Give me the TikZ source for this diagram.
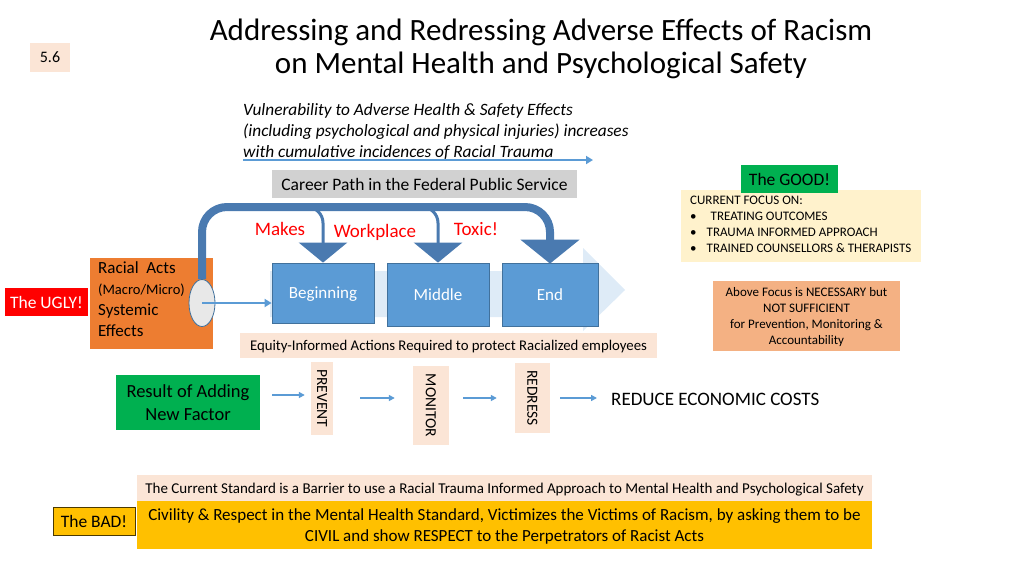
\documentclass[tikz,border=0pt]{standalone}
\usepackage{fontspec}
\setmainfont{Carlito}
\usetikzlibrary{arrows.meta,shapes.geometric}

\definecolor{peach}{HTML}{FBE5D6}
\definecolor{stageblue}{HTML}{5B9BD5}
\definecolor{stageedge}{HTML}{41719C}
\definecolor{darkpath}{HTML}{4A7AB0}
\definecolor{paleblue}{HTML}{DEEBF7}
\definecolor{goodgreen}{HTML}{00B050}
\definecolor{uglyorange}{HTML}{ED7D31}
\definecolor{focusyellow}{HTML}{FFF2CC}
\definecolor{needsalmon}{HTML}{F4B183}
\definecolor{badgold}{HTML}{FFC000}

\begin{document}
\begin{tikzpicture}[
            x = 1pt, y = -1pt,
            every node/.style={text depth=0pt, inner sep=0pt},
            stage/.style={rectangle, fill=stageblue, draw=stageedge, line width=.8pt,
                text=white, font=\fontsize{17}{19}\selectfont},
            tag/.style={rectangle, minimum height=28pt, font=\fontsize{17.5}{19}\selectfont},
            vbox/.style={rectangle, fill=peach},
            vlabel/.style={rotate=-90, font=\fontsize{15.5}{17}\selectfont},
            red word/.style={text=red, font=\fontsize{19}{21}\selectfont},
            path line/.style={draw=darkpath, line width=8pt,
                -{Triangle[width=58pt, length=24pt]}},
            branch/.style={draw=darkpath, line width=3pt,
                -{Triangle[width=48pt, length=20pt]}},
            flow/.style={draw=stageblue, line width=2pt, -{Triangle[width=8pt, length=7pt]}},
            small flow/.style={draw=stageblue, line width=1.6pt, -{Triangle[width=6pt, length=6pt]}},
            ]

        \useasboundingbox (0,0) rectangle (1024,576);

        % heading
        \node[fill=peach, minimum width=40pt, minimum height=29pt,
            font=\fontsize{16}{18}\selectfont] (num) at (50,57.5) {5.6};
        \node[align=center, font=\fontsize{31}{33}\selectfont] (title) at (541,46)
            {Addressing and Redressing Adverse Effects of Racism\\on Mental Health and Psychological Safety};

        % vulnerability note
        \node[anchor=north west, align=left, font=\fontsize{17.3}{21}\itshape] (vuln) at (243,103)
            {Vulnerability to Adverse Health \& Safety Effects\\
             (including psychological and physical injuries) increases\\
             with cumulative incidences of Racial Trauma};
        \coordinate (v1) at (243,160);
        \coordinate (v2) at (593,160);
        \draw[flow] (v1) -- (v2);

        \node[fill=black!18, minimum width=305pt, minimum height=28pt,
            font=\fontsize{17.5}{19}\selectfont] (career) at (424.5,184)
            {Career Path in the Federal Public Service};

        % career stages
        \fill[paleblue] (270,271) -- (583,271) -- (583,248) -- (625,290)
            -- (583,331) -- (583,317) -- (270,317) -- cycle;
        \node[stage, minimum width=102pt, minimum height=60pt] (beg) at (323,293) {Beginning};
        \node[stage, minimum width=102pt, minimum height=63pt] (mid) at (438,294.5) {Middle};
        \node[stage, minimum width=96pt, minimum height=63pt] (end) at (550,294.5) {End};

        % the ugly
        \node[fill=uglyorange, minimum width=123pt, minimum height=91pt] (acts) at (151.5,303.5) {};
        \node[anchor=north west, align=left, font=\fontsize{17}{21}\selectfont] (actstext) at (98,261)
            {Racial\ \ Acts\\{\fontsize{14.5}{15}\selectfont(Macro/Micro)}\\Systemic\\Effects};
        \node[ellipse, fill=black!9, draw=stageedge, line width=.8pt,
            minimum width=26pt, minimum height=47pt] (src) at (202,303) {};
        \node[tag, fill=red, text=white, minimum width=83pt] (ugly) at (46.5,302) {The UGLY!};

        \coordinate (top) at (0,207);
        \draw[path line, rounded corners=25pt] (src.north) -- (src.north |- top)
            -- (end.north |- top) -- ([yshift=-1pt]end.north);
        \draw[branch, rounded corners=16pt] ([xshift=-22pt]beg.north |- top) -| (beg.north);
        \draw[branch, rounded corners=16pt] ([xshift=-22pt]mid.north |- top) -| (mid.north);
        \draw[flow] (src.center) -- (src.center -| beg.west);

        \node[red word] (w1) at (280,229) {Makes};
        \node[red word] (w2) at (375,231) {Workplace};
        \node[red word] (w3) at (476,229) {Toxic!};

        % actions
        \node[fill=peach, minimum width=417pt, minimum height=25pt,
            font=\fontsize{14.8}{16}\selectfont] (equity) at (448.5,345.5)
            {Equity-Informed Actions Required to protect Racialized employees};

        \node[fill=goodgreen, minimum width=144pt, minimum height=55pt, align=center,
            font=\fontsize{18.5}{23}\selectfont] (factor) at (188,402.5) {Result of Adding\\New Factor};
        \node[vbox, minimum width=22pt, minimum height=73pt] (prevent) at (322,398.5) {};
        \node[vlabel] (preventtext) at (prevent) {PREVENT};
        \node[vbox, minimum width=36pt, minimum height=79pt] (monitor) at (431,405.5) {};
        \node[vlabel] (monitortext) at (monitor) {MONITOR};
        \node[vbox, minimum width=35pt, minimum height=70pt] (redress) at (532.5,398) {};
        \node[vlabel] (redresstext) at (redress) {REDRESS};
        \node[anchor=west, font=\fontsize{19}{21}\selectfont] (costs) at (611,399)
            {REDUCE ECONOMIC COSTS};

        \draw[small flow] ([xshift=12pt]factor.east |- 0,395) -- ([xshift=-6pt]prevent.west |- 0,395);
        \draw[small flow] ([xshift=27pt]prevent.east |- 0,398) -- ([xshift=-18pt]monitor.west |- 0,398);
        \draw[small flow] ([xshift=14pt]monitor.east |- 0,398) -- ([xshift=-18pt]redress.west |- 0,398);
        \draw[small flow] ([xshift=10pt]redress.east |- 0,398) -- ([xshift=-14pt]costs.west |- 0,398);

        % the good
        \node[fill=focusyellow, minimum width=240pt, minimum height=72pt] (focus) at (801,226) {};
        \node[anchor=north west, align=left, font=\fontsize{13}{15.8}\selectfont] (focustext) at (690,196)
            {CURRENT FOCUS ON:\\
             \textbullet\hspace{14pt}TREATING OUTCOMES\\
             \textbullet\hspace{10pt}TRAUMA INFORMED APPROACH\\
             \textbullet\hspace{10pt}TRAINED COUNSELLORS \& THERAPISTS};
        \node[tag, fill=goodgreen, minimum width=97pt] (good) at (789.5,179) {The GOOD!};
        \node[fill=needsalmon, minimum width=187pt, minimum height=70pt, align=center,
            font=\fontsize{13}{15.8}\selectfont] (need) at (806.5,316)
            {Above Focus is NECESSARY but\\NOT SUFFICIENT\\for Prevention, Monitoring \&\\Accountability};

        % the bad
        \node[fill=peach, minimum width=735pt, minimum height=26pt,
            font=\fontsize{15}{16}\selectfont] (barrier) at (504.5,488)
            {The Current Standard is a Barrier to use a Racial Trauma Informed Approach to Mental Health and Psychological Safety};
        \node[fill=badgold, minimum width=735pt, minimum height=48pt, align=center,
            font=\fontsize{17}{21}\selectfont] (civil) at (504.5,525)
            {Civility \& Respect in the Mental Health Standard, Victimizes the Victims of Racism, by asking them to be\\
             CIVIL and show RESPECT to the Perpetrators of Racist Acts};
        \node[tag, fill=badgold, draw=black!70!badgold, line width=.8pt, minimum width=82pt] (bad) at (94,521) {The BAD!};
    \end{tikzpicture}
\end{document}
